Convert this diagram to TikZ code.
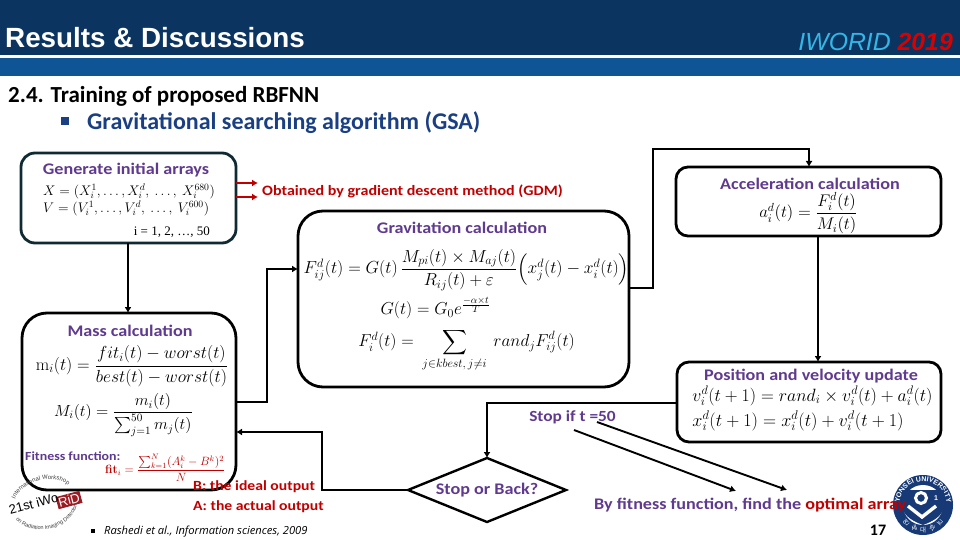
\documentclass[tikz,border=0pt]{standalone}
\usepackage{amsmath}
\usepackage[no-math]{fontspec}
\setmainfont{Carlito}
\newfontfamily\cb[FakeStretch=1.12]{Carlito}
\newfontfamily\arialf{Liberation Sans}
\newfontfamily\timesf{Liberation Serif}
\newfontfamily\opensf{Open Sans}
\newfontfamily\krf{Noto Sans CJK KR}
\usetikzlibrary{arrows.meta,shapes.geometric,decorations.text,calc}
\definecolor{hdark}{HTML}{0B3560}
\definecolor{hband}{HTML}{0F5495}
\definecolor{boxedge}{HTML}{0F2A33}
\definecolor{purp}{HTML}{5F3A8E}
\definecolor{redt}{HTML}{C00000}
\definecolor{navy}{HTML}{1A3F82}
\definecolor{cyanl}{HTML}{35B6E6}
\definecolor{ridred}{HTML}{9B1C24}
\newcommand{\fs}[1]{\fontsize{#1}{#1}\selectfont}
\tikzset{
 flowbox/.style={draw=black,line width=2.8pt,rounded corners=#1,outer sep=0pt,fill=white,inner sep=0pt},
 conn/.style={draw=black,line width=1.9pt},
 connarrow/.style={conn,-{Latex[length=6pt,width=7pt]}},
 redarrow/.style={draw=redt,line width=2pt,-{Latex[length=6pt,width=7pt]}},
 head/.style={font=\cb\bfseries\fs{16.2},text=purp,inner sep=0pt},
 formula/.style={inner sep=0pt,font=\fs{17.28}},
 smallformula/.style={inner sep=0pt,font=\fs{14.4}},
 redtext/.style={font=\cb\bfseries\fs{14},text=redt,inner sep=0pt},
 krch/.style={inner sep=0pt,text=white,font=\krf\fs{6.5}},
}
\begin{document}
\begin{tikzpicture}[x=1pt,y=-1pt]
\useasboundingbox (0,0) rectangle (960,540);
\fill[white] (0,0) rectangle (960,540);
\fill[hdark] (0,0) rectangle (960,55);
\fill[hband] (0,58) rectangle (960,76);
\node[anchor=west,inner sep=0pt,text=white,font=\arialf\bfseries\fs{27.8}] (title) at (5,38) {Results \& Discussions};
\node[anchor=east,inner sep=0pt,font=\arialf\itshape\fs{24.8}] (conf) at (953,42) {\textcolor{cyanl}{IWORID} \textcolor{red!85!black}{\bfseries 2019}};
\node[anchor=west,inner sep=0pt,font=\bfseries\fs{23}] (sec) at (8,96.5) {2.4. Training of proposed RBFNN};
\node[anchor=west,inner sep=0pt,font=\bfseries\fs{24},text=navy] (gsa) at (87,122.5) {Gravitational searching algorithm (GSA)};
\fill[navy] (61,117) rectangle (69,125);

% boxes
\node[flowbox=14pt,draw=boxedge,minimum width=215pt,minimum height=90pt] (init) at (128.5,198) {};
\node[flowbox=25pt,minimum width=214pt,minimum height=177pt] (mass) at (129,401.5) {};
\node[flowbox=25pt,minimum width=331pt,minimum height=176pt] (grav) at (463.5,299) {};
\node[flowbox=12pt,minimum width=265pt,minimum height=69pt] (acc) at (808.5,201.5) {};
\node[flowbox=12pt,minimum width=264pt,minimum height=80pt] (pos) at (809,402) {};
\node[diamond,draw=black,line width=2.4pt,minimum width=158pt,minimum height=64pt,aspect=2.47,inner sep=0pt,outer sep=0pt] (dec) at (487,490) {};

% connectors
\draw[connarrow] (init.south -| 128,0) -- (mass.north -| 128,0);
\draw[connarrow] (mass.east |- 0,402) -- (267,402) -- (267,269) -- (grav.west |- 0,269);
\draw[connarrow] (grav.east |- 0,288) -- (653,288) -- (653,149) -- (809,149) -- (acc.north -| 809,0);
\draw[connarrow] (acc.south -| 818,0) -- (pos.north -| 818,0);
\draw[connarrow] (pos.west |- 0,403) -- (487,403) -- (dec.north);
\draw[connarrow] (dec.west) -- (322,490) -- (322,432) -- (mass.east |- 0,432);
\draw[redarrow] (init.east |- 0,183) -- (258,183);
\draw[redarrow] (init.east |- 0,197) -- (258,197);
\coordinate (d1a) at (574,430);
\coordinate (d1b) at (736,491);
\coordinate (d2a) at (597,422);
\coordinate (d2b) at (787,490);
\draw[connarrow] (d1a) -- (d1b);
\draw[connarrow] (d2a) -- (d2b);

% init
\node[head] (inith) at (126,170) {Generate initial arrays};
\node[smallformula,anchor=west] (initx) at (43,191) {\scalebox{0.966}{$X=(X_i^1,\dots,X_i^d,\ \dots,\ X_i^{680})$}};
\node[smallformula,anchor=west] (initv) at (43,208) {\scalebox{0.966}{$V=(V_i^1,\dots,V_i^d,\ \dots,\ V_i^{600})$}};
\node[inner sep=0pt,anchor=east,font=\timesf\fs{13}] (initi) at (210,232) {i = 1, 2, \dots, 50};
\node[anchor=west,font=\cb\bfseries\fs{14.33},text=redt,inner sep=0pt] (gdm) at (262,191) {Obtained by gradient descent method (GDM)};

% mass
\node[head] (massh) at (130,331) {Mass calculation};
\node[formula] (m1) at (132,366) {\scalebox{1.01}{$\mathrm{m}_i(t)=\dfrac{fit_i(t)-worst(t)}{best(t)-worst(t)}$}};
\node[smallformula] (m2) at (123.5,415) {\scalebox{1.118}{$M_i(t)=\dfrac{m_i(t)}{\sum_{j=1}^{50}m_j(t)}$}};
\node[anchor=west,inner sep=0pt,font=\cb\bfseries\fs{12.4},text=purp] (fit) at (25,456) {Fitness function:};
\node[inner sep=0pt,anchor=west,text=redt,font=\fs{11.5}] (fitf) at (105,468) {$\mathbf{fit}_i=\dfrac{\sum_{k=1}^{N}(A_i^k-B^k)^2}{N}$};
\node[redtext,anchor=west] (bi) at (193,487) {B: the ideal output};
\node[redtext,anchor=west] (ai) at (193,507) {A: the actual output};
\fill (91,529) rectangle (95,533);
\node[anchor=west,inner sep=0pt,font=\opensf\itshape\fs{11.15}] (ref) at (104,532) {Rashedi et al., Information sciences, 2009};

% grav
\node[head] (gravh) at (462,228) {Gravitation calculation};
\node[formula] (g1) at (466.5,270) {\scalebox{1.01}{$F_{ij}^d(t)=G(t)\,\dfrac{M_{pi}(t)\times M_{aj}(t)}{R_{ij}(t)+\varepsilon}\Bigl(x_j^d(t)-x_i^d(t)\Bigr)$}};
\node[formula] (g2) at (435.5,308) {$G(t)=G_0e^{\frac{-\alpha\times t}{T}}$};
\node[formula] (g3) at (466.5,350) {$F_i^d(t)=\ \displaystyle\sum_{j\in kbest,\,j\neq i}\ rand_jF_{ij}^d(t)$};

% acc
\node[head] (acch) at (810,184) {Acceleration calculation};
\node[smallformula] (a1) at (808.5,213) {\scalebox{1.17}{$a_i^d(t)=\dfrac{F_i^d(t)}{M_i(t)}$}};

% pos
\node[head] (posh) at (811,376) {Position and velocity update};
\node[formula] (p1) at (812.5,396) {\scalebox{1.03}{$v_i^d(t+1)=rand_i\times v_i^d(t)+a_i^d(t)$}};
\node[formula] (p2) at (798,421) {\scalebox{1.05}{$x_i^d(t+1)=x_i^d(t)+v_i^d(t+1)$}};

\node[inner sep=0pt,font=\cb\bfseries\fs{15.5},text=purp] (stop) at (572.5,417) {Stop if t =50};
\node[head] (decl) at (487,490) {Stop or Back?};

% Yonsei logo
\coordinate (yc) at (923,505);
\fill[navy!90!black] (yc) circle (30);
\fill[white] (yc) circle (20);
\path[decorate,decoration={text along path,text align=center,text={|\arialf\bfseries\fs{7}\color{white}|YONSEI UNIVERSITY}}] ($(yc)+(-23.5,-3)$) arc (187:353:23.7);
\node[krch,rotate=40] (k1) at ($(yc)+(-17,18)$) {연};
\node[krch,rotate=20] (k2) at ($(yc)+(-9,23.5)$) {세};
\node[krch] (k3) at ($(yc)+(0,25)$) {대};
\node[krch,rotate=-20] (k4) at ($(yc)+(9,23.5)$) {학};
\node[krch,rotate=-40] (k5) at ($(yc)+(17,18)$) {교};
\fill[navy!90!black] ($(yc)+(-21,-15)$) -- ($(yc)+(21,-15)$) -- ($(yc)+(21,2)$) .. controls ($(yc)+(19,12)$) and ($(yc)+(8,17)$) .. ($(yc)+(0,20)$) .. controls ($(yc)+(-8,17)$) and ($(yc)+(-19,12)$) .. ($(yc)+(-21,2)$) -- cycle;
\draw[white,line width=3pt] ($(yc)+(-2,-7)$) circle (5.5);
\draw[white,line width=3.4pt] ($(yc)+(-15,1)$) -- ($(yc)+(-1,12)$) -- ($(yc)+(13,1)$);
\node[inner sep=0pt,text=white,font=\arialf\bfseries\fs{7}] (y1) at ($(yc)+(13,-7)$) {1};

% iWoRID logo
\begin{scope}[shift={(45,505)},rotate=15]
\path[decorate,decoration={text along path,text align=center,text={|\arialf\fs{6}\color{black!75}|International Workshop}}] (-31,-3) arc (180:360:31 and 22);
\path[decorate,decoration={text along path,text align=center,text={|\arialf\fs{5.5}\color{black!75}|on Radiation Imaging Detectors}}] (-33,0) arc (180:0:33 and 24);
\end{scope}
\node[rotate=15,inner sep=1.5pt,fill=ridred,text=white,font=\arialf\fs{13}] (rid) at (69,500) {RiD};
\node[rotate=15,inner sep=0pt,anchor=east,font=\arialf\fs{13}] (iw) at (58,497) {21st iWo};

\node[anchor=west,inner sep=0pt,font=\cb\bfseries\fs{16.2},text=purp] (best) at (594,505) {By fitness function, find the \textcolor{redt}{optimal array}};
\node[inner sep=0pt,font=\bfseries\fs{16}] (pg) at (878,530) {17};
\end{tikzpicture}
\end{document}
